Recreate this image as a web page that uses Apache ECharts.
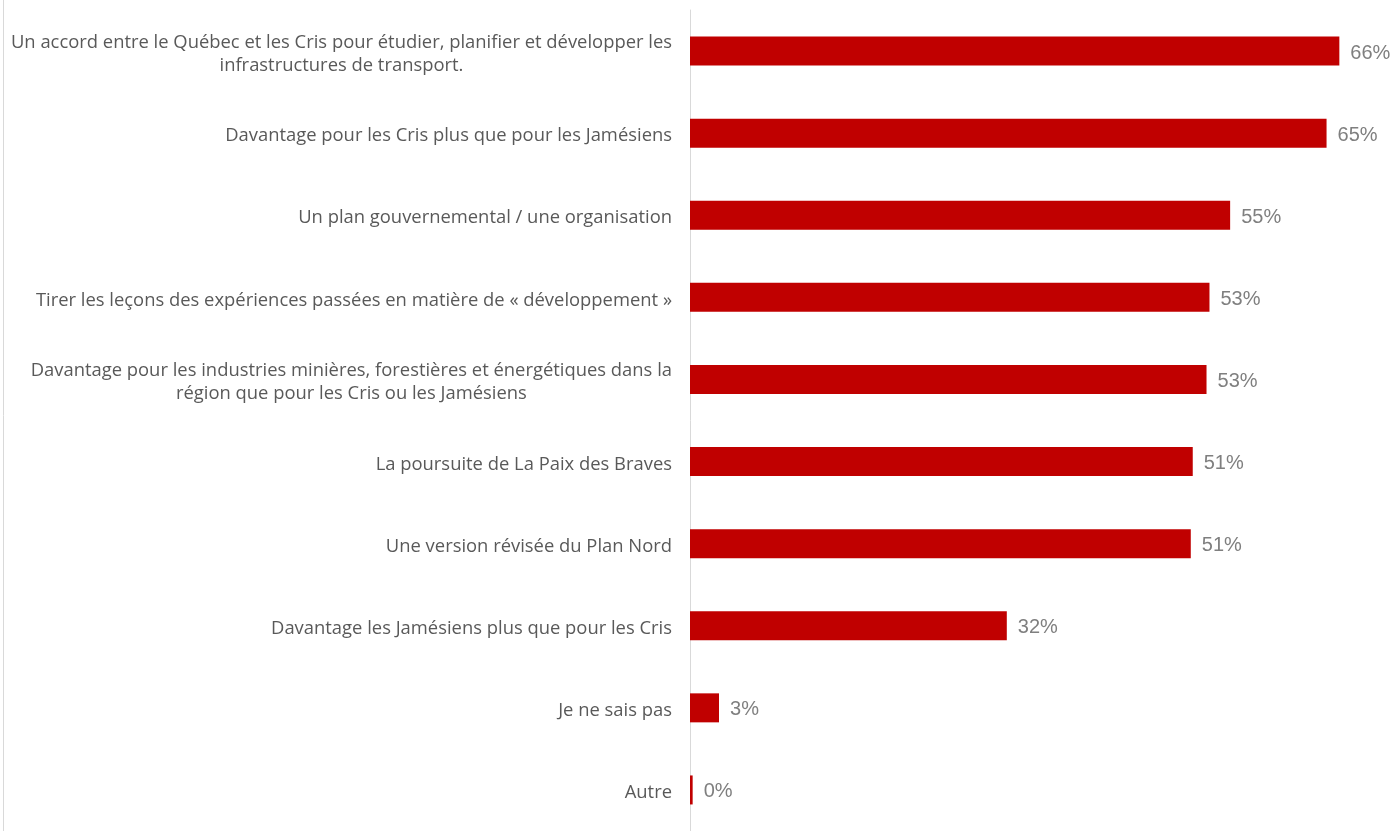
<!DOCTYPE html>
<html><head><meta charset="utf-8">
<script src="https://cdn.jsdelivr.net/npm/echarts@6/dist/echarts.min.js"></script>
<style>html,body{margin:0;padding:0;background:#fff}#c{width:1394px;height:831px}</style>
</head><body><div id="c"></div>
<script>
const categories = [
  "Un accord entre le Québec et les Cris pour étudier, planifier et développer les\ninfrastructures de transport.",
  "Davantage pour les Cris plus que pour les Jamésiens",
  "Un plan gouvernemental / une organisation",
  "Tirer les leçons des expériences passées en matière de « développement »",
  "Davantage pour les industries minières, forestières et énergétiques dans la\nrégion que pour les Cris ou les Jamésiens",
  "La poursuite de La Paix des Braves",
  "Une version révisée du Plan Nord",
  "Davantage les Jamésiens plus que pour les Cris",
  "Je ne sais pas",
  "Autre"
];
const values = [66, 64.7, 54.9, 52.8, 52.5, 51.1, 50.9, 32.2, 2.95, 0.27];

const chart = echarts.init(document.getElementById('c'));
chart.setOption({
  animation: false,
  grid: { left: 690, top: 10, width: 688.7, height: 823, containLabel: false },
  xAxis: { type: 'value', min: 0, max: 70, show: false },
  yAxis: {
    type: 'category', data: categories, inverse: true,
    axisLine: { show: true, lineStyle: { color: '#d9d9d9', width: 1 } },
    axisTick: { show: false },
    axisLabel: {
      margin: 18, color: '#595959', fontFamily: 'Open Sans', fontSize: 18.4, lineHeight: 23,
      padding: [6, 0, 0, 0],
      formatter: v => v.split('\n').map(l => '{c|' + l + '}').join('\n'),
      rich: { c: { align: 'center', color: '#595959', fontFamily: 'Open Sans', fontSize: 18.4, lineHeight: 23 } }
    }
  },
  graphic: [{ type: 'line', shape: { x1: 3.5, y1: 0, x2: 3.5, y2: 831 }, style: { stroke: '#d9d9d9', lineWidth: 1 } }],
  series: [{
    type: 'bar', data: values, barWidth: 29,
    itemStyle: { color: '#c00000' },
    label: { show: true, position: 'right', distance: 11, offset: [0, 2], color: '#7f7f7f', fontFamily: 'Liberation Sans', fontSize: 20,
      formatter: p => Math.round(p.value) + '%' }
  }]
});
</script></body></html>
